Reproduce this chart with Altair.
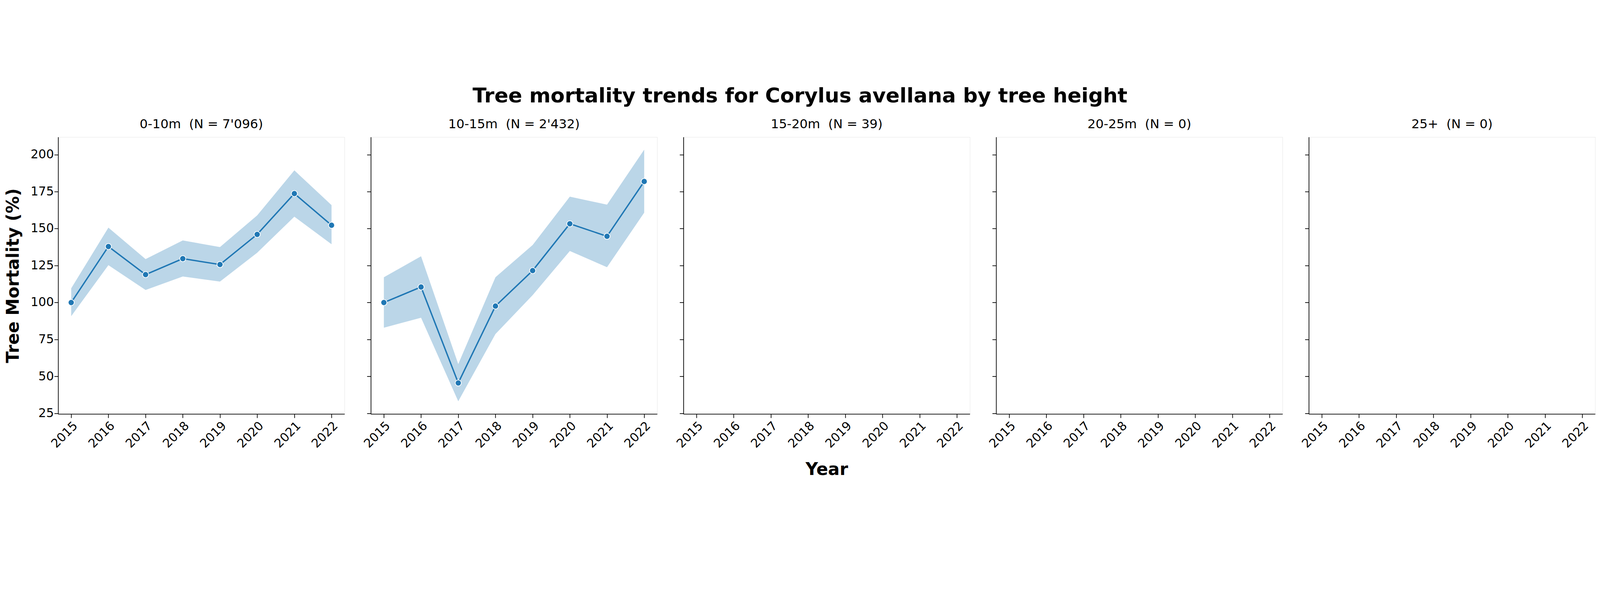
import altair as alt
import pandas as pd

years = [2015, 2016, 2017, 2018, 2019, 2020, 2021, 2022]
panel_titles = ["0-10m\u00a0\u00a0(N = 7'096)", "10-15m\u00a0\u00a0(N = 2'432)", "15-20m\u00a0\u00a0(N = 39)", "20-25m\u00a0\u00a0(N = 0)", "25+\u00a0\u00a0(N = 0)"]

p1_mean = [100.0, 137.9, 118.9, 129.7, 125.7, 146.1, 173.7, 152.3]
p1_up = [109.6, 150.7, 129.4, 142.0, 137.5, 158.9, 189.4, 165.9]
p1_lo = [90.8, 125.3, 108.5, 117.6, 114.2, 133.7, 158.1, 139.4]

p2_mean = [100.0, 110.5, 45.6, 97.6, 121.6, 153.3, 144.8, 181.9]
p2_up = [117.1, 131.3, 58.4, 117.1, 138.9, 171.6, 166.2, 203.4]
p2_lo = [83.0, 89.7, 33.2, 78.7, 105.0, 134.9, 123.9, 160.8]

series = [(p1_mean, p1_up, p1_lo), (p2_mean, p2_up, p2_lo), None, None, None]

BLUE = "#1f77b4"
FONT = "DejaVu Sans"
W, H = 1035, 1000

def panel(i):
    s = series[i]
    xs = alt.X("year:Q", scale=alt.Scale(domain=[2014.65, 2022.35], nice=False, zero=False),
               axis=alt.Axis(values=years, format="d", labelAngle=-45, labelAlign="right",
                             labelBaseline="top", labelFontSize=44, tickSize=14, tickWidth=2.5,
                             domainWidth=2.5, domainColor="black", tickColor="black",
                             labelColor="black", labelPadding=6, grid=False,
                             title="Year" if i == 2 else None, titleFontSize=62,
                             titleFontWeight="bold", titlePadding=40, titleColor="black"))
    yax = alt.Axis(values=[25, 50, 75, 100, 125, 150, 175, 200], labels=(i == 0),
                   labelFontSize=44, tickSize=14, tickWidth=2.5, domainWidth=2.5,
                   domainColor="black", tickColor="black", labelColor="black", grid=False,
                   title="Tree Mortality (%)" if i == 0 else None, titleFontSize=62,
                   titleFontWeight="bold", titlePadding=30, titleColor="black")
    ysc = alt.Scale(domain=[24.6, 211.9], nice=False, zero=False)
    if s is None:
        df = pd.DataFrame({"year": years, "v": [100] * len(years)})
        ch = alt.Chart(df).mark_point(opacity=0).encode(x=xs, y=alt.Y("v:Q", scale=ysc, axis=yax))
    else:
        df = pd.DataFrame({"year": years, "mean": s[0], "up": s[1], "lo": s[2]})
        base = alt.Chart(df)
        band = base.mark_area(color=BLUE, opacity=0.3).encode(
            x=xs, y=alt.Y("lo:Q", scale=ysc, axis=yax), y2="up:Q")
        line = base.mark_line(color=BLUE, strokeWidth=5).encode(x="year:Q", y="mean:Q")
        pts = base.mark_point(filled=True, fill=BLUE, stroke="white", strokeWidth=2.5,
                              opacity=1, size=480).encode(x="year:Q", y="mean:Q")
        ch = alt.layer(band, line, pts)
    return ch.properties(width=W, height=H,
                         title=alt.TitleParams(panel_titles[i], fontSize=46, font=FONT,
                                               fontWeight="normal", color="black", offset=22))

chart = alt.hconcat(*[panel(i) for i in range(5)], spacing=61).properties(
    title=alt.TitleParams("Tree mortality trends for Corylus avellana by tree height",
                          fontSize=74, fontWeight="bold", font=FONT, anchor="middle",
                          color="black", offset=40)
).configure_view(strokeWidth=0, strokeOpacity=0).configure(font=FONT, background="white")

chart.save("out.html", embed_options={"renderer": "svg", "actions": False})
